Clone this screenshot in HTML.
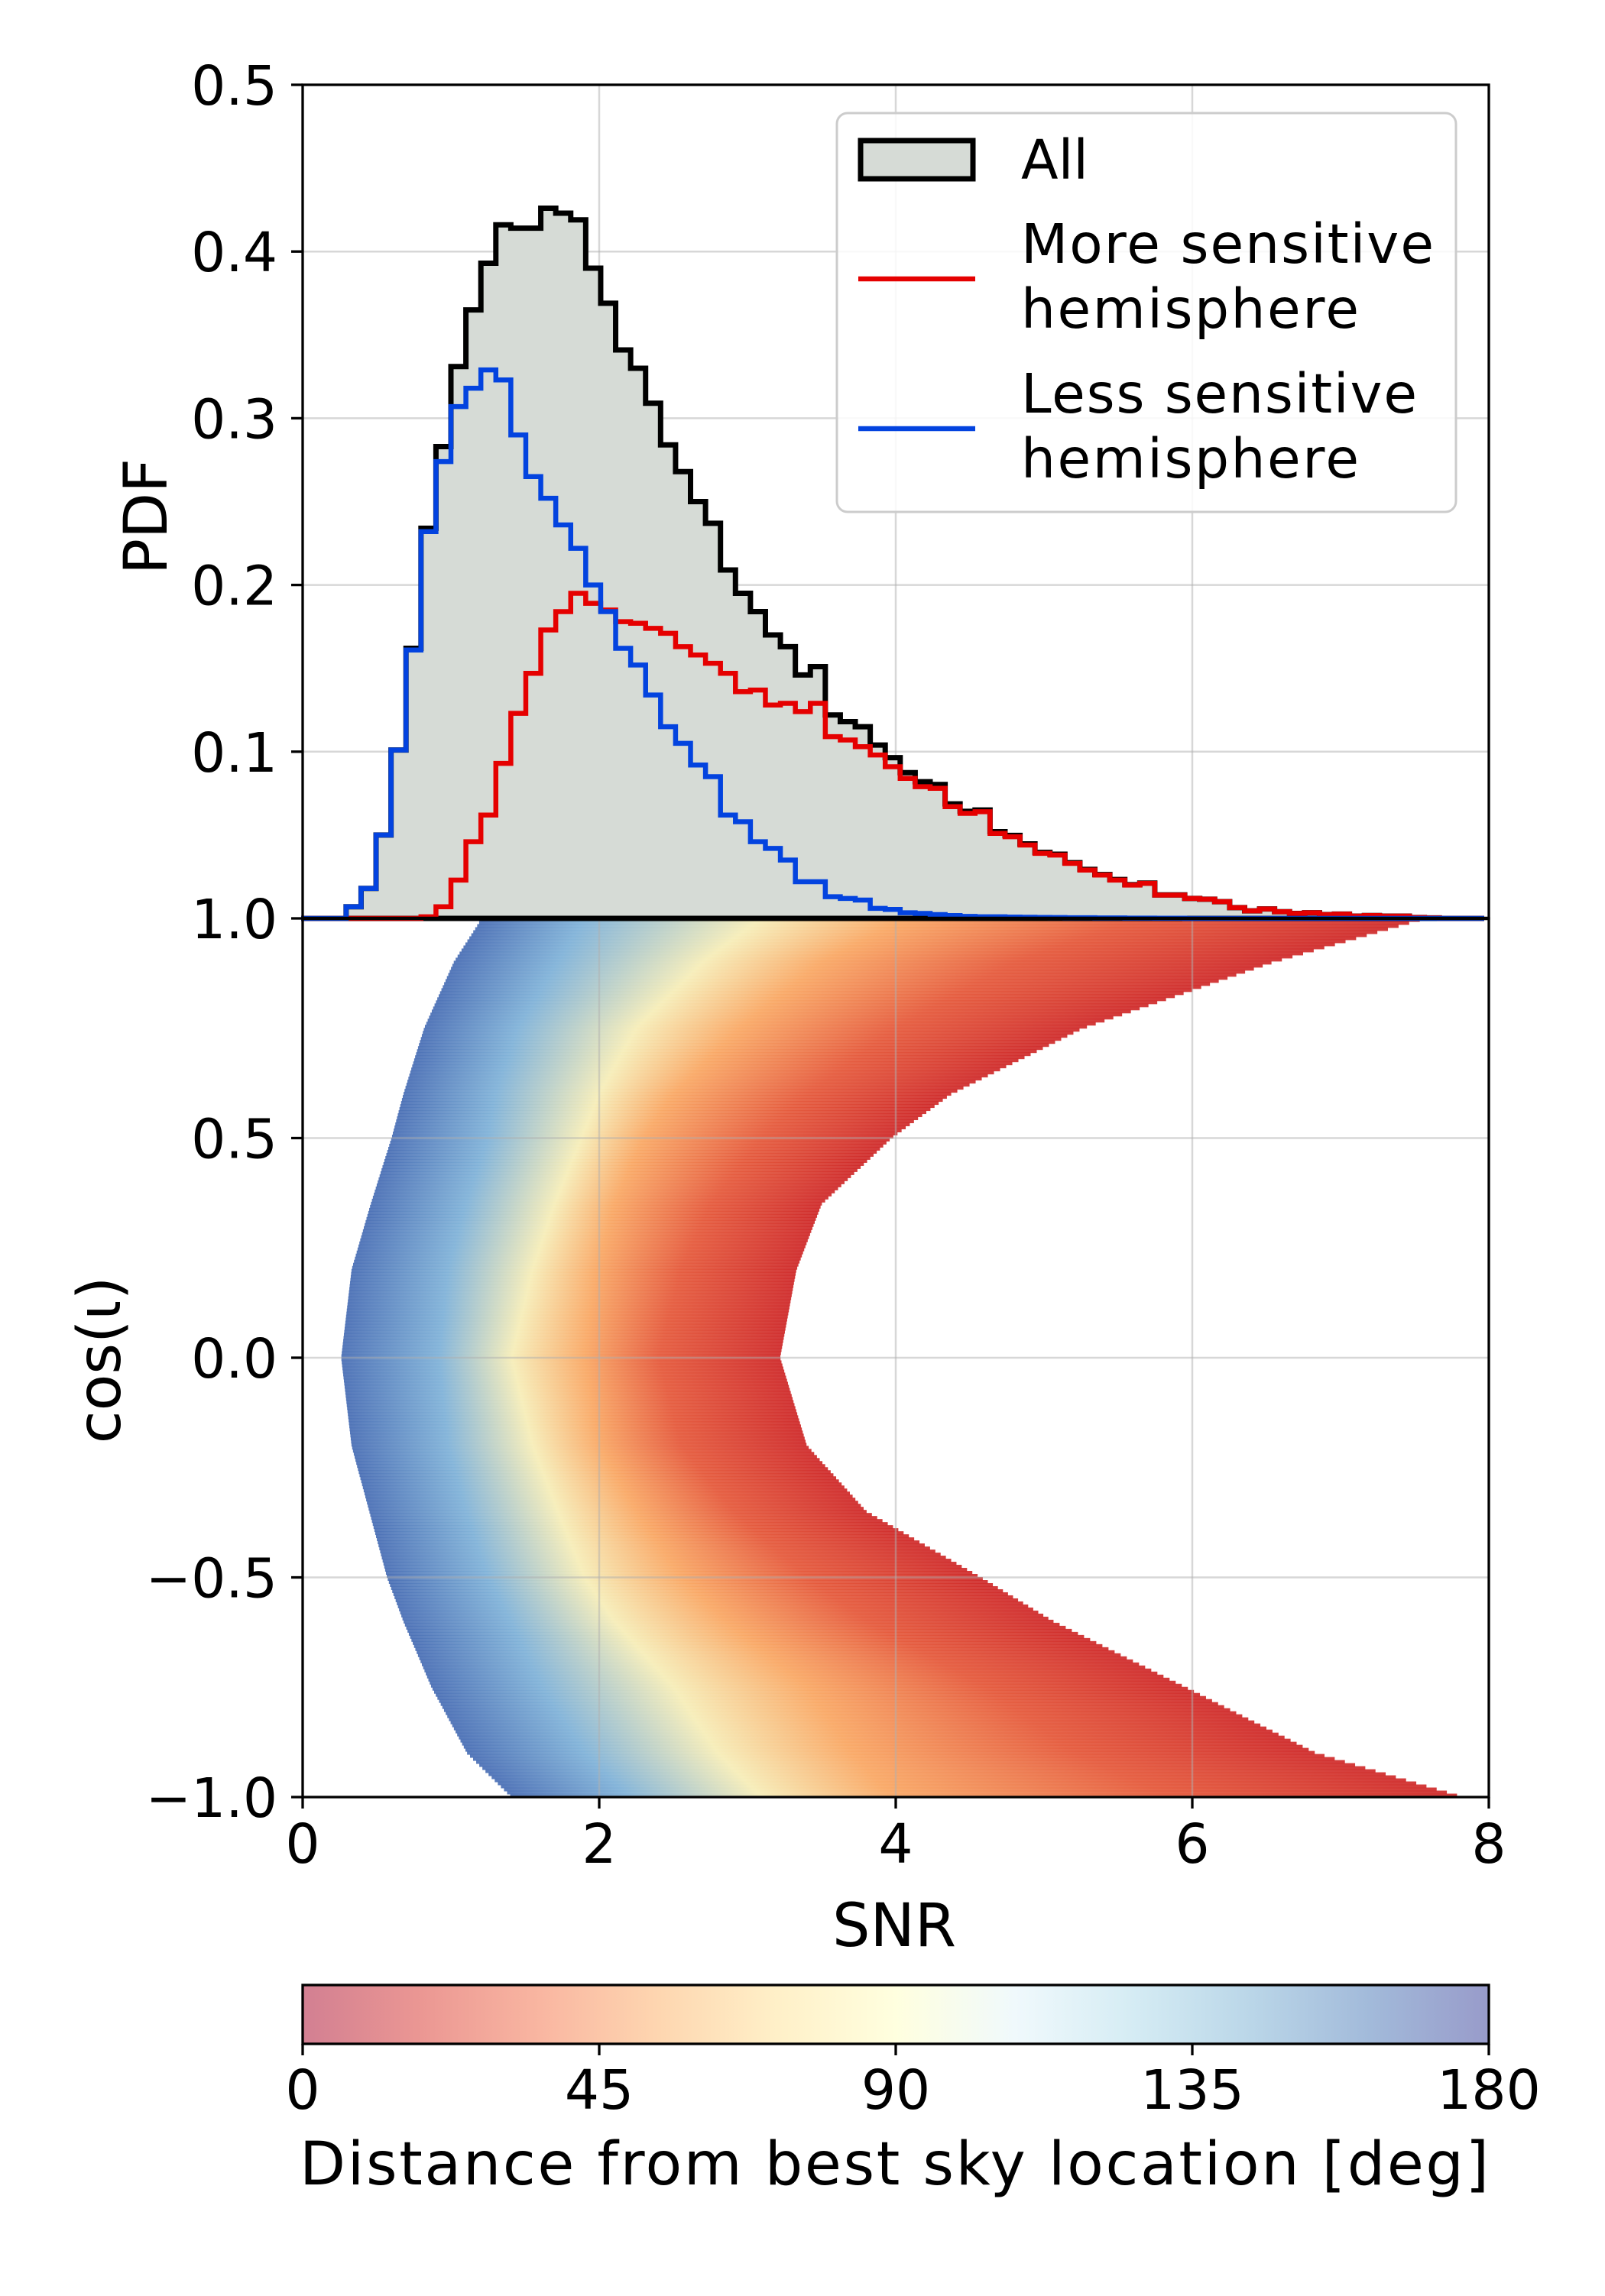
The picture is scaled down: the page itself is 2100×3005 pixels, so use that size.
<!DOCTYPE html>
<html><head><meta charset="utf-8"><style>
html,body{margin:0;padding:0;background:#fff}
svg text{font-family:"DejaVu Sans","Liberation Sans",sans-serif;fill:#000}
</style></head><body>
<svg id="chart" width="2100" height="3000" viewBox="0 0 2100 3000" xmlns="http://www.w3.org/2000/svg">
<defs>
<linearGradient id="cbar" x1="0" x2="1" y1="0" y2="0">
<stop offset="0" stop-color="#d27f92"/><stop offset="0.1" stop-color="#eb9793"/><stop offset="0.2" stop-color="#f9b6a1"/><stop offset="0.3" stop-color="#fed6b0"/><stop offset="0.4" stop-color="#fff0c8"/><stop offset="0.5" stop-color="#ffffdf"/><stop offset="0.6" stop-color="#f0f9fc"/><stop offset="0.7" stop-color="#d5ecf4"/><stop offset="0.8" stop-color="#bad6e8"/><stop offset="0.9" stop-color="#a2bada"/><stop offset="1" stop-color="#989bca"/>
</linearGradient>
<clipPath id="scClip"><rect x="396" y="1202" width="1552" height="1150"/></clipPath>
</defs>
<g id="scatter" clip-path="url(#scClip)"></g>
<g id="grid"></g>
<g id="hist"></g>
<g id="axes"></g>
<g>
<rect x="1095" y="148" width="810" height="522" rx="14" fill="#fff" fill-opacity="0.85" stroke="#cccccc" stroke-width="3"/>
<rect x="1126" y="184" width="147" height="50" fill="#d6dbd6" stroke="#000" stroke-width="7"/>
<text x="1336" y="234" font-size="71">All</text>
<line x1="1123" y1="365" x2="1276" y2="365" stroke="#e50000" stroke-width="6.5"/>
<text x="1336" y="344" font-size="71" textLength="540">More sensitive</text>
<text x="1336" y="429" font-size="71" textLength="442">hemisphere</text>
<line x1="1123" y1="561" x2="1276" y2="561" stroke="#0343df" stroke-width="6.5"/>
<text x="1336" y="540" font-size="71" textLength="518">Less sensitive</text>
<text x="1336" y="625" font-size="71" textLength="442">hemisphere</text>
</g>
<g>
<rect x="396" y="2598" width="1552" height="77" fill="url(#cbar)" stroke="#000" stroke-width="3.3"/>
<g id="cbticks"></g>
<text x="1170" y="2859" font-size="78" text-anchor="middle" textLength="1556">Distance from best sky location [deg]</text>
</g>
</svg>
<script>
// ---- histogram data (bin width ~0.101 SNR) ----
const binStart = -0.01;
const binWidth = 0.101;
const allPdf = [0,0,0,0.007,0.018,0.050,0.101,0.162,0.234,0.283,0.331,0.365,0.393,0.416,0.414,0.414,0.426,0.423,0.419,0.390,0.369,0.341,0.330,0.309,0.284,0.268,0.250,0.237,0.209,0.195,0.184,0.170,0.163,0.146,0.151,0.122,0.118,0.115,0.104];
const lessPdf = [0,0,0,0.007,0.018,0.050,0.101,0.161,0.232,0.274,0.307,0.318,0.329,0.323,0.290,0.265,0.252,0.236,0.222,0.200,0.184,0.162,0.152,0.134,0.115,0.105,0.092,0.085,0.062,0.058,0.046,0.042,0.035,0.022,0.022,0.013,0.012,0.011,0.006,0.0054,0.0034,0.003,0.0023,0.0017,0.0012,0.001,0.001,0.0008,0.0007,0.0006,0.0005,0.0004,0.0004,0.0003,0.0003,0.0002,0.0002,0.0001,0.0001,0,0,0,0,0,0,0,0,0,0,0,0,0,0,0,0,0,0,0,0];
const morePdf = [0,0,0,0,0,0,0,0,0.001,0.007,0.023,0.046,0.062,0.093,0.123,0.147,0.173,0.184,0.195,0.189,0.185,0.178,0.177,0.174,0.171,0.163,0.158,0.153,0.147,0.136,0.137,0.128,0.129,0.124,0.129,0.109,0.107,0.103,0.098,0.091,0.084,0.079,0.078,0.067,0.063,0.064,0.051,0.049,0.044,0.039,0.038,0.033,0.029,0.026,0.023,0.020,0.021,0.014,0.014,0.012,0.0115,0.010,0.0065,0.0045,0.0057,0.004,0.003,0.0034,0.0023,0.0026,0.0014,0.0017,0.0014,0.0014,0.0005,0.0003,0,0,0];
// ---- scatter band data: rows of cos(iota) and SNR boundaries ----
const rowCos    = [1, 0.9, 0.75, 0.6, 0.5, 0.35, 0.2, 0, -0.2, -0.35, -0.5, -0.6, -0.75, -0.9, -1];
const edgeLeft  = [1.21,1.02,0.82,0.68,0.60,0.46,0.33,0.26,0.33,0.45,0.57,0.68,0.87,1.11,1.41];
const edgeBlue  = [1.90,1.72,1.45,1.30,1.25,1.10,0.98,0.92,0.98,1.10,1.25,1.40,1.61,1.90,2.20];
const edgeLight = [3.09,2.70,2.25,2.00,1.88,1.70,1.55,1.41,1.55,1.72,1.90,2.10,2.50,2.80,3.09];
const edgeYellow= [4.07,3.50,2.95,2.50,2.30,2.10,1.98,1.90,2.00,2.25,2.55,2.85,3.40,3.70,3.97];
const edgeOrange= [5.65,4.80,4.00,3.40,3.09,2.75,2.55,2.40,2.55,2.90,3.40,3.80,4.60,5.20,5.85];
const edgeRight = [7.57,6.54,5.26,4.37,3.97,3.50,3.33,3.22,3.40,3.80,4.57,5.06,5.95,6.83,7.82];
const xTicks = [0,2,4,6,8];
const histYTicks = [0.1,0.2,0.3,0.4,0.5];
const scYTicks = [1.0,0.5,0,-0.5,-1.0];
const scYLabels = ["1.0","0.5","0.0","\u22120.5","\u22121.0"];
const cbTicks = [0,45,90,135,180];

const NS="http://www.w3.org/2000/svg";
const X0=396,X1=1948,HT=111,MID=1202,BOT=2352;
const xs = s => X0 + s*(X1-X0)/8;
const yh = v => MID - v*(MID-HT)/0.5;
const yc = c => (MID+BOT)/2 - c*(BOT-MID)/2;
function mk(tag,attrs,parent){const e=document.createElementNS(NS,tag);for(const k in attrs)e.setAttribute(k,attrs[k]);parent.appendChild(e);return e;}

// scatter density strips
const sc=document.getElementById('scatter');
const defs=document.querySelector('defs');
const bandColors=['#4a6fb5','#80b2d8','#f6edb8','#f9a865','#e55a3c','#cf2a2a'];
function interp(arr,c){for(let i=0;i<rowCos.length-1;i++){const a=rowCos[i],b=rowCos[i+1];if(c<=a&&c>=b){const t=(a-c)/(a-b);return arr[i]+(arr[i+1]-arr[i])*t;}}return c>1?arr[0]:arr[arr.length-1];}
const nStrips=288;
for(let i=0;i<nStrips;i++){
  const c=1-(i+0.5)*2/nStrips;
  const b=[edgeLeft,edgeBlue,edgeLight,edgeYellow,edgeOrange,edgeRight].map(a=>interp(a,c));
  const gx0=xs(b[0]),gx1=xs(b[5]);
  const g=mk('linearGradient',{id:'g'+i,gradientUnits:'userSpaceOnUse',x1:gx0,x2:gx1,y1:0,y2:0},defs);
  b.forEach((v,j)=>mk('stop',{offset:((xs(v)-gx0)/(gx1-gx0)).toFixed(4),'stop-color':bandColors[j]},g));
  const r=mk('rect',{x:gx0,y:yc(c)-1150/nStrips/2-0.5,width:gx1-gx0,height:1150/nStrips+1,fill:'url(#g'+i+')','fill-opacity':0.92},sc);
  
  
}

// grid
const grid=document.getElementById('grid');
[2,4,6].forEach(s=>{
  const l=mk('line',{x1:xs(s),x2:xs(s),y1:HT,y2:BOT,stroke:'#b0b0b0','stroke-width':2.5,'stroke-opacity':0.5},grid);
  
  
});
[0.1,0.2,0.3,0.4].forEach(v=>{
  const l=mk('line',{x1:X0,x2:X1,y1:yh(v),y2:yh(v),stroke:'#b0b0b0','stroke-width':2.5,'stroke-opacity':0.5},grid);
  
  
});
[0.5,0,-0.5].forEach(c=>{
  const l=mk('line',{x1:X0,x2:X1,y1:yc(c),y2:yc(c),stroke:'#b0b0b0','stroke-width':2.5,'stroke-opacity':0.5},grid);
  
  
});

// histograms
const hist=document.getElementById('hist');
function stepPath(vals,closed){
  let d='M'+xs(binStart)+','+yh(0);
  vals.forEach((v,k)=>{const a=xs(binStart+k*binWidth),b=xs(binStart+(k+1)*binWidth);d+=' L'+a+','+yh(v)+' L'+b+','+yh(v);});
  d+=' L'+xs(binStart+vals.length*binWidth)+','+yh(0);
  if(closed)d+=' Z';
  return d;
}
const allFull = morePdf.map((m,k)=> k<allPdf.length ? allPdf[k] : m+lessPdf[k]);
const pa=mk('path',{d:stepPath(allFull,true),fill:'#d6dbd6',stroke:'#000','stroke-width':7,'stroke-linejoin':'miter'},hist);


const pm=mk('path',{d:stepPath(morePdf,false),fill:'none',stroke:'#e50000','stroke-width':6.5},hist);


const pl=mk('path',{d:stepPath(lessPdf,false),fill:'none',stroke:'#0343df','stroke-width':6.5},hist);


mk('rect',{x:0,y:HT,width:X0-2,height:MID-HT+10,fill:'#fff'},hist);

// axes
const ax=document.getElementById('axes');
const fr1=mk('rect',{x:X0,y:HT,width:X1-X0,height:MID-HT,fill:'none',stroke:'#000','stroke-width':3.3},ax);


const fr2=mk('rect',{x:X0,y:MID,width:X1-X0,height:BOT-MID,fill:'none',stroke:'#000','stroke-width':3.3},ax);


mk('line',{x1:X0,x2:X1,y1:MID,y2:MID,stroke:'#000','stroke-width':4.5},ax);
xTicks.forEach(s=>{
  mk('line',{x1:xs(s),x2:xs(s),y1:BOT,y2:BOT+15,stroke:'#000','stroke-width':3.3},ax);
  const t=mk('text',{x:xs(s),y:BOT+86,'font-size':71,'text-anchor':'middle'},ax);
  t.textContent=String(s);
  
  
});
histYTicks.forEach(v=>{
  mk('line',{x1:X0-15,x2:X0,y1:yh(v),y2:yh(v),stroke:'#000','stroke-width':3.3},ax);
  const t=mk('text',{x:X0-33,y:yh(v)+26,'font-size':71,'text-anchor':'end'},ax);
  t.textContent=v.toFixed(1);
  
  
});
scYTicks.forEach((c,i)=>{
  mk('line',{x1:X0-15,x2:X0,y1:yc(c),y2:yc(c),stroke:'#000','stroke-width':3.3},ax);
  const t=mk('text',{x:X0-33,y:yc(c)+26,'font-size':71,'text-anchor':'end'},ax);
  t.textContent=scYLabels[i];
  
  
});
const xl=mk('text',{x:1170,y:2547,'font-size':78,'text-anchor':'middle'},ax);
xl.textContent='SNR';


const yl1=mk('text',{x:0,y:0,'font-size':78,'text-anchor':'middle',transform:'translate(218,676) rotate(-90)'},ax);
yl1.textContent='PDF';


const yl2=mk('text',{x:0,y:0,'font-size':78,'text-anchor':'middle',transform:'translate(157,1780) rotate(-90)'},ax);
yl2.textContent='cos(\u03B9)';



// colorbar ticks
const cbt=document.getElementById('cbticks');
cbTicks.forEach(v=>{
  const x=X0+v/180*(X1-X0);
  mk('line',{x1:x,x2:x,y1:2675,y2:2690,stroke:'#000','stroke-width':3.3},cbt);
  const t=mk('text',{x:x,y:2760,'font-size':71,'text-anchor':'middle'},cbt);
  t.textContent=String(v);
  
  
});
</script>
</body></html>
